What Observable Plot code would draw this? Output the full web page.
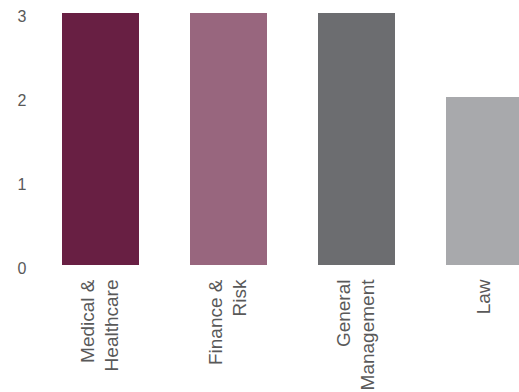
<!DOCTYPE html>
<html>
<head>
<meta charset="utf-8">
<script src="https://cdn.jsdelivr.net/npm/d3@7"></script>
<script src="https://cdn.jsdelivr.net/npm/@observablehq/plot@0.6"></script>
<style>
  html, body { margin: 0; padding: 0; background: #fff; }
  #chart { width: 519px; height: 392px; overflow: hidden; }
</style>
</head>
<body>
<div id="chart"></div>
<script>
const categories = ["Medical & Healthcare", "Finance & Risk", "General Management", "Law"];
const labels = ["Medical &\nHealthcare", "Finance &\nRisk", "General\nManagement", "Law"];
const values = [3, 3, 3, 2];
const colors = ["#681f43", "#98667e", "#6c6d70", "#a8a9ac"];
const yTicks = [0, 1, 2, 3];

const data = categories.map((c, i) => ({category: c, label: labels[i], value: values[i], color: colors[i]}));

const chart = Plot.plot({
  width: 519,
  height: 392,
  marginTop: 13,
  marginBottom: 127,
  marginLeft: 26,
  marginRight: 0,
  style: {fontFamily: "'Liberation Sans', Arial, Helvetica, sans-serif", color: "#595959", background: "#fff"},
  x: {domain: categories, range: [60, 525], paddingInner: 0.395, paddingOuter: 0, axis: null},
  y: {domain: [0, 3], axis: null},
  marks: [
    Plot.barY(data, {x: "category", y: "value", fill: "color"}),
    Plot.axisY(yTicks, {tickSize: 0, tickPadding: 0, tickFormat: d3.format("d"), fontSize: 16, dy: 3, label: null, fill: "#595959"}),
    Plot.text(data, {
      x: "category",
      text: "label",
      frameAnchor: "bottom",
      rotate: -90,
      textAnchor: "end",
      lineAnchor: "middle",
      lineHeight: 1.3,
      fontSize: 19,
      dx: -3,
      dy: 14,
      fill: "#595959"
    })
  ]
});
document.getElementById("chart").appendChild(chart);
</script>
</body>
</html>
